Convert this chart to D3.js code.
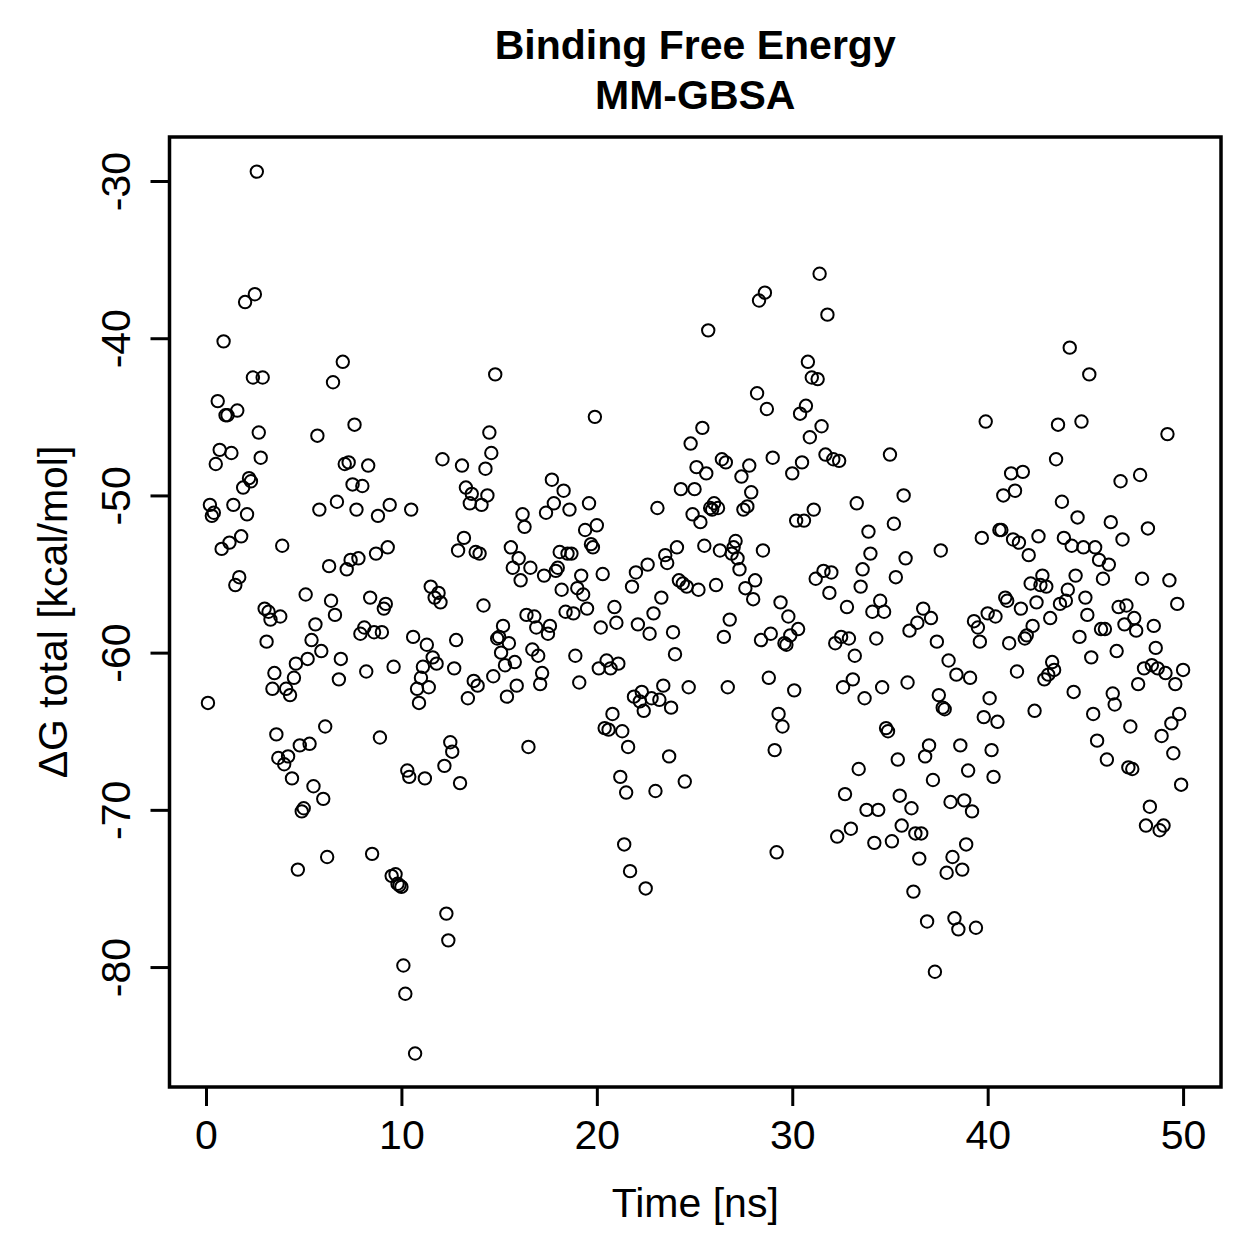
<!DOCTYPE html>
<html>
<head>
<meta charset="utf-8">
<script src="https://cdn.jsdelivr.net/npm/d3@7"></script>
<style>
  html, body { margin: 0; padding: 0; background: #fff; }
  svg { display: block; font-family: "Liberation Sans", Arial, Helvetica, sans-serif; }
</style>
</head>
<body>
<svg id="chart" width="1259" height="1259"></svg>
<script>
// MM-GBSA total binding free energy, one value per 0.1 ns frame, split in 5 ns blocks
const block00 = [-63.2,-50.6,-51.3,-51.1,-48.0,-44.0,-47.1,-53.4,-40.2,-44.9,-44.9,-53.0,-47.3,-50.6,-55.7,-44.6,-55.2,-52.6,-49.5,-37.7,-51.2,-48.9,-49.1,-42.5,-37.2,-29.4,-46.0,-47.6,-42.5,-57.2,-59.3,-57.4,-57.9,-62.3,-61.3,-65.2,-66.7,-57.7,-53.2,-67.1,-62.3,-66.6,-62.7,-68.0,-61.6,-60.7,-73.8,-65.9,-70.1,-69.9];
const block05 = [-56.3,-60.4,-65.8,-59.2,-68.5,-58.2,-46.2,-50.9,-59.9,-69.3,-64.7,-73.0,-54.5,-56.7,-42.8,-57.6,-50.4,-61.7,-60.4,-41.5,-48.0,-54.7,-47.9,-54.1,-49.3,-45.5,-50.9,-54.0,-58.8,-49.4,-58.4,-61.2,-48.1,-56.5,-72.8,-58.7,-53.7,-51.3,-65.4,-58.7,-57.2,-56.9,-53.3,-50.6,-74.2,-60.9,-74.1,-74.7,-74.8,-74.9];
const block10 = [-79.9,-81.7,-67.5,-67.9,-50.9,-59.0,-85.5,-62.3,-63.2,-61.6,-60.9,-68.0,-59.5,-62.2,-55.8,-60.3,-56.5,-60.7,-56.2,-56.8,-47.7,-67.2,-76.6,-78.3,-65.7,-66.3,-61.0,-59.2,-53.5,-68.3,-48.1,-52.7,-49.5,-62.9,-50.5,-49.9,-61.8,-53.6,-62.1,-53.7,-50.6,-57.0,-48.3,-50.0,-46.0,-47.3,-61.5,-42.3,-59.1,-59.0];
const block15 = [-60.0,-58.3,-60.8,-62.8,-59.4,-53.3,-54.6,-60.6,-62.1,-54.0,-55.4,-51.2,-52.0,-57.6,-66.0,-54.6,-59.8,-57.7,-58.4,-60.2,-62.0,-61.3,-55.1,-51.1,-58.8,-58.3,-49.0,-50.5,-54.8,-54.6,-53.6,-56.0,-49.7,-57.4,-53.7,-50.9,-53.7,-57.5,-60.2,-55.9,-61.9,-55.1,-56.3,-52.2,-57.2,-50.5,-53.1,-53.3,-45.0,-51.9];
const block20 = [-61.0,-58.4,-55.0,-64.8,-60.5,-64.9,-61.0,-63.9,-57.1,-58.1,-60.7,-67.9,-65.0,-72.2,-68.9,-66.0,-73.9,-55.8,-62.8,-54.9,-58.2,-63.1,-62.5,-63.7,-75.0,-54.4,-58.8,-62.9,-57.5,-68.8,-50.8,-63.0,-56.5,-62.1,-53.8,-54.3,-66.6,-63.5,-58.7,-60.1,-53.3,-55.4,-49.6,-55.6,-68.2,-55.8,-62.2,-46.7,-51.2,-49.6];
const block25 = [-48.2,-56.0,-51.7,-45.7,-53.2,-48.6,-39.5,-50.8,-50.9,-50.5,-55.7,-50.8,-53.5,-47.7,-59.0,-47.9,-62.2,-57.9,-53.7,-53.3,-52.9,-54.0,-54.7,-48.8,-50.9,-55.9,-50.7,-48.1,-49.8,-56.6,-55.4,-43.5,-37.6,-59.2,-53.5,-37.1,-44.5,-61.6,-58.8,-47.6,-66.2,-72.7,-63.9,-56.8,-64.7,-59.4,-59.5,-57.7,-58.9,-48.6];
const block30 = [-62.4,-51.6,-58.5,-44.8,-47.9,-51.6,-44.3,-41.5,-46.3,-42.5,-50.9,-55.3,-42.6,-35.9,-45.6,-54.8,-47.4,-38.5,-56.2,-54.9,-47.7,-59.4,-71.7,-47.8,-59.0,-62.2,-69.0,-57.1,-59.1,-71.2,-61.7,-60.2,-50.5,-67.4,-55.8,-54.7,-62.9,-70.0,-52.3,-53.7,-57.4,-72.1,-59.1,-70.0,-56.7,-62.2,-57.4,-64.8,-65.0,-47.4];
const block35 = [-72.0,-51.8,-55.2,-66.8,-69.1,-71.0,-50.0,-54.0,-61.9,-58.6,-69.9,-75.2,-71.5,-58.1,-73.1,-71.5,-57.2,-66.6,-77.1,-65.9,-57.8,-68.1,-80.3,-59.3,-62.7,-53.5,-63.5,-63.6,-74.0,-60.5,-69.5,-73.0,-76.9,-61.4,-77.6,-65.9,-73.8,-69.4,-72.2,-67.5,-61.6,-70.1,-58.0,-77.5,-58.4,-59.3,-52.7,-64.1,-45.3,-57.5];
const block40 = [-62.9,-66.2,-67.9,-57.7,-64.4,-52.2,-52.2,-50.0,-56.5,-56.7,-59.4,-48.6,-52.8,-49.7,-61.2,-53.0,-57.2,-48.5,-59.1,-58.9,-53.8,-55.6,-58.3,-63.7,-56.8,-52.6,-55.7,-55.1,-61.7,-55.8,-61.4,-57.8,-60.6,-61.1,-47.7,-45.5,-56.9,-50.4,-52.7,-56.7,-56.0,-40.6,-53.2,-62.5,-55.1,-51.4,-59.0,-45.3,-53.3,-56.5];
const block45 = [-57.6,-42.3,-60.3,-63.9,-53.3,-65.6,-54.1,-58.5,-55.3,-58.5,-66.8,-54.4,-51.7,-62.6,-63.3,-59.9,-57.1,-49.1,-52.8,-58.2,-57.0,-67.3,-64.7,-67.4,-57.8,-58.6,-62.0,-48.7,-55.3,-61.0,-71.0,-52.1,-69.8,-60.8,-58.3,-59.7,-61.0,-71.3,-65.3,-71.0,-61.3,-46.1,-55.4,-64.5,-66.4,-62.0,-56.9,-63.9,-68.4,-61.1];

const blocks = [block00, block05, block10, block15, block20, block25, block30, block35, block40, block45];
const frameStep = 0.1; // ns per frame
const xTicks = [0, 10, 20, 30, 40, 50];
const yTicks = [-30, -40, -50, -60, -70, -80];

const titleLines = ['Binding Free Energy', 'MM-GBSA'];
const xLabel = 'Time [ns]';
const yLabel = '\u0394G total [kcal/mol]';

// flatten blocks into {t, dg}
const data = [];
blocks.forEach((b, bi) => {
  b.forEach((v, i) => {
    const frame = bi * b.length + i + 1;
    data.push({ t: +(frame * frameStep).toFixed(1), dg: v });
  });
});

const svg = d3.select('#chart');
const plot = { left: 169.5, right: 1221, top: 137, bottom: 1087 };
const fontSize = 41;

svg.append('rect').attr('width', 1259).attr('height', 1259).attr('fill', '#fff');

const x = d3.scaleLinear().domain([-1.868, 51.94]).range([plot.left, plot.right]);
const y = d3.scaleLinear().domain([-87.63, -27.2]).range([plot.bottom, plot.top]);

// points
svg.append('g').attr('id', 'points')
  .selectAll('circle')
  .data(data)
  .enter()
  .append('circle')
  .attr('cx', d => x(d.t))
  .attr('cy', d => y(d.dg))
  .attr('r', 6.2)
  .attr('fill', 'none')
  .attr('stroke', '#000')
  .attr('stroke-width', 2);

// axes (R style: box drawn separately, labels use plain hyphen)
const xAxis = svg.append('g')
  .attr('transform', `translate(0,${plot.bottom})`)
  .call(d3.axisBottom(x).tickValues(xTicks).tickSize(19).tickFormat(d => String(d)));
xAxis.select('.domain').remove();
xAxis.selectAll('line').attr('stroke', '#000').attr('stroke-width', 3);
xAxis.selectAll('text')
  .attr('font-size', fontSize).attr('fill', '#000')
  .attr('y', 1149 - plot.bottom).attr('dy', null);

const yAxis = svg.append('g')
  .attr('transform', `translate(${plot.left},0)`)
  .call(d3.axisLeft(y).tickValues(yTicks).tickSize(19).tickFormat(d => String(d)));
yAxis.select('.domain').remove();
yAxis.selectAll('line').attr('stroke', '#000').attr('stroke-width', 3);
yAxis.selectAll('text')
  .attr('font-size', fontSize).attr('fill', '#000')
  .attr('x', null).attr('dy', null)
  .attr('text-anchor', 'middle')
  .attr('transform', `translate(${130 - plot.left},0) rotate(-90)`);

// box
svg.append('rect')
  .attr('x', plot.left).attr('y', plot.top)
  .attr('width', plot.right - plot.left).attr('height', plot.bottom - plot.top)
  .attr('fill', 'none').attr('stroke', '#000').attr('stroke-width', 3.5);

// titles
const cx = (plot.left + plot.right) / 2;
svg.append('text')
  .attr('x', cx).attr('y', 59)
  .attr('text-anchor', 'middle').attr('font-size', fontSize).attr('font-weight', 'bold')
  .text(titleLines[0]);
svg.append('text')
  .attr('x', cx).attr('y', 109)
  .attr('text-anchor', 'middle').attr('font-size', fontSize).attr('font-weight', 'bold')
  .text(titleLines[1]);

svg.append('text')
  .attr('x', cx).attr('y', 1217)
  .attr('text-anchor', 'middle').attr('font-size', fontSize)
  .text(xLabel);

svg.append('text')
  .attr('transform', `translate(67,${(plot.top + plot.bottom) / 2}) rotate(-90)`)
  .attr('text-anchor', 'middle').attr('font-size', fontSize)
  .text(yLabel);
</script>
</body>
</html>
